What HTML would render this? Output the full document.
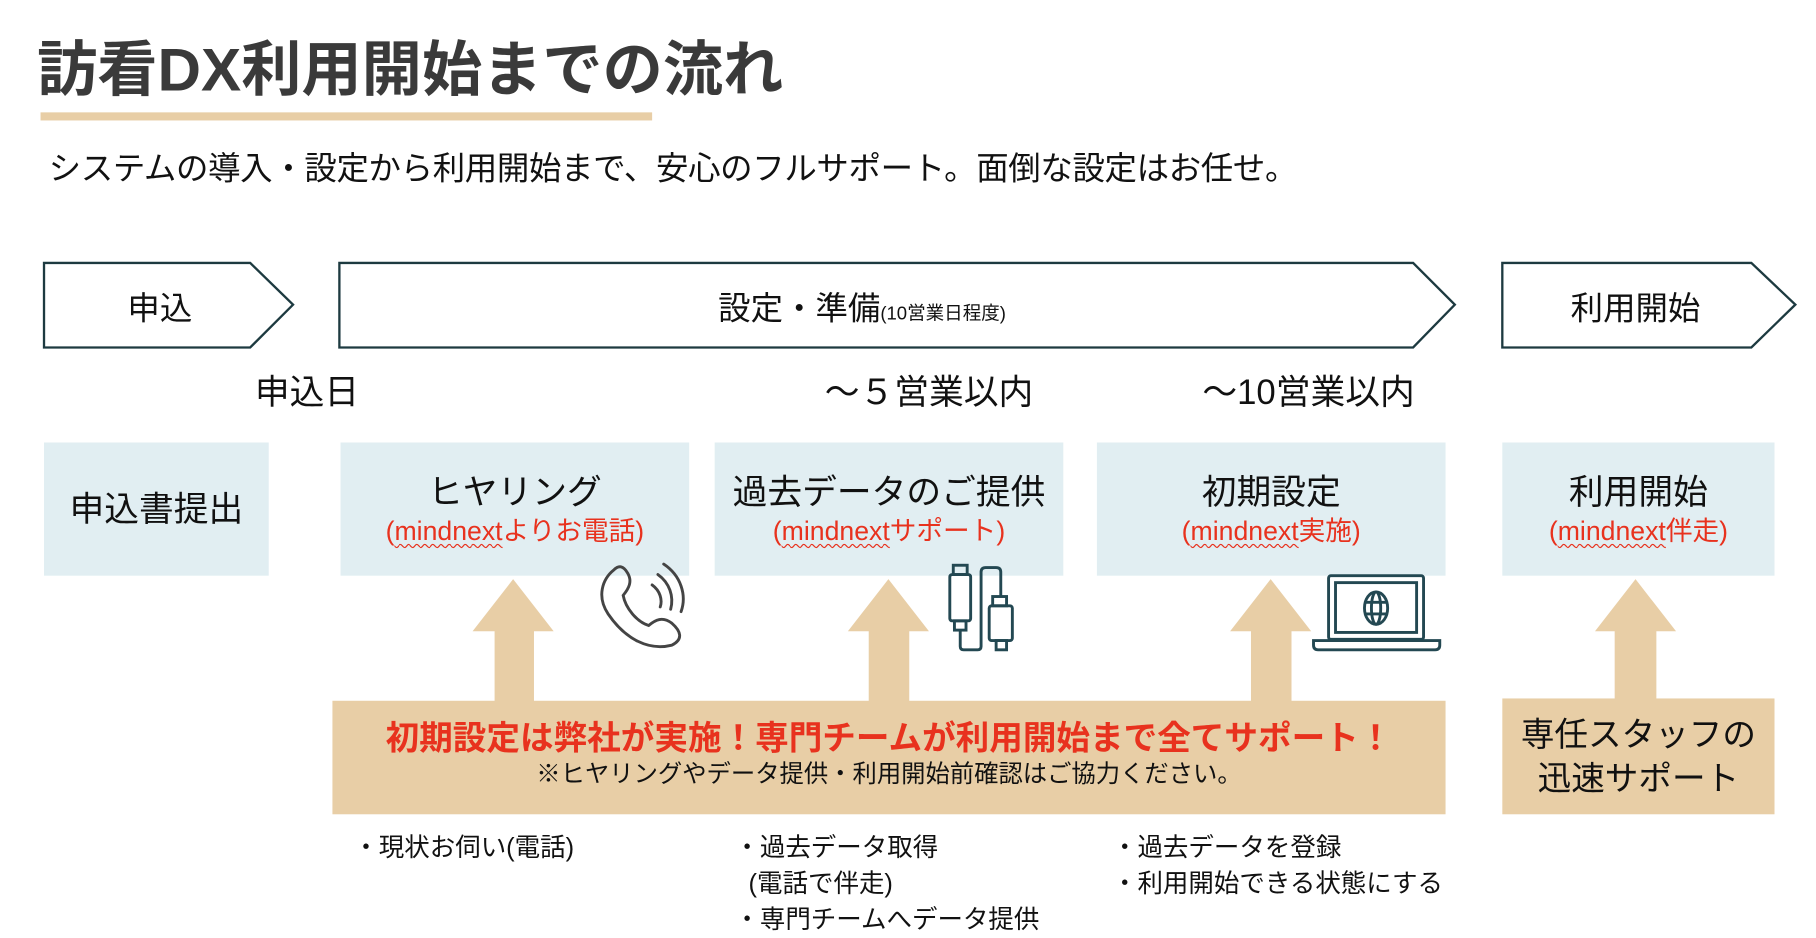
<!DOCTYPE html>
<html><head><meta charset="utf-8"><style>
html,body{margin:0;padding:0;background:#fff;overflow:hidden;width:1816px;height:938px}
#s{position:absolute;left:0;top:0;width:1570px;height:810px;transform:scale(1.1583);transform-origin:0 0;font-family:"Liberation Sans","Noto Sans CJK JP",sans-serif;color:#111}
.a{position:absolute;white-space:nowrap}
.bx{position:absolute;background:#e1eef2;text-align:center}
.t{font-size:30px;color:#111;line-height:34px}
.r{font-size:23px;color:#e8321e;line-height:30px}
.w{text-decoration:underline wavy #e8321e;text-decoration-thickness:1px;text-underline-offset:3px}
.tan{background:#e8cea6;position:absolute}
</style></head><body><div id="s">
<div class="a" style="left:32px;top:18px;font-size:52px;font-weight:bold;color:#3a3a3a;letter-spacing:0px">訪看DX利用開始までの流れ</div>
<div class="tan" style="left:35px;top:97px;width:528px;height:7px"></div>
<div class="a" style="left:42px;top:124px;font-size:28px;letter-spacing:-0.3px">システムの導入・設定から利用開始まで、安心のフルサポート。面倒な設定はお任せ。</div>
<svg class="a" style="left:0;top:0" width="1570" height="810">
<g fill="#fff" stroke="#1d3a40" stroke-width="2">
<polygon points="38,227 216,227 253,263 216,300 38,300"/>
<polygon points="293,227 1220,227 1256,263 1220,300 293,300"/>
<polygon points="1297,227 1512,227 1550,263 1512,300 1297,300"/>
</g>
<g fill="#e8cea6">
<polygon points="408,545 443,500 478,545 461,545 461,606 427,606 427,545"/>
<polygon points="732,545 767,500 802,545 785,545 785,606 750,606 750,545"/>
<polygon points="1062,545 1097,500 1132,545 1115,545 1115,606 1080,606 1080,545"/>
<polygon points="1377,545 1412,500 1447,545 1430,545 1430,604 1394,604 1394,545"/>
</g>
</svg>
<div class="a" style="left:38px;top:245px;width:200px;text-align:center;font-size:28px">申込</div>
<div class="a" style="left:620px;top:245px;font-size:28px">設定・準備<span style="font-size:16px">(10営業日程度)</span></div>
<div class="a" style="left:1297px;top:245px;width:230px;text-align:center;font-size:28px">利用開始</div>
<div class="a" style="left:220px;top:314px;font-size:30px">申込日</div>
<div class="a" style="left:712px;top:314px;font-size:30px">～５営業以内</div>
<div class="a" style="left:1038px;top:314px;font-size:30px">～10営業以内</div>
<div class="bx" style="left:38px;top:382px;width:194px;height:115px"><div class="t" style="margin-top:42px">申込書提出</div></div>
<div class="bx" style="left:294px;top:382px;width:301px;height:115px"><div class="t" style="margin-top:27px">ヒヤリング</div><div class="r">(<span class="w">mindnext</span>よりお電話)</div></div>
<div class="bx" style="left:617px;top:382px;width:301px;height:115px"><div class="t" style="margin-top:27px">過去データのご提供</div><div class="r">(<span class="w">mindnext</span>サポート)</div></div>
<div class="bx" style="left:947px;top:382px;width:301px;height:115px"><div class="t" style="margin-top:27px">初期設定</div><div class="r">(<span class="w">mindnext</span>実施)</div></div>
<div class="bx" style="left:1297px;top:382px;width:235px;height:115px"><div class="t" style="margin-top:27px">利用開始</div><div class="r">(<span class="w">mindnext</span>伴走)</div></div>
<svg class="a" style="left:0;top:0" width="1570" height="810">
<g fill="none" stroke="#444" stroke-width="2.5" stroke-linecap="round">
<path d="M530,492 C520,500 515,515 525,530 C540,552 560,562 580,557 C590,552 588,545 580,538 C572,532 566,535 560,540 C550,537 540,525 538,514 C543,508 546,502 542,495 C538,488 534,488 530,492Z"/>
<path d="M563,505 C570,510 572,518 570,524"/>
<path d="M568,496 C578,503 582,515 579,526"/>
<path d="M573,487 C588,497 593,514 588,528"/>
</g>
<g fill="none" stroke="#234852" stroke-width="2.5">
<rect x="823" y="488" width="12" height="8"/><rect x="820" y="496" width="18" height="40" rx="2"/><rect x="824" y="536" width="10" height="8"/>
<path d="M829,544 V558 Q829,561 832,561 H844 Q847,561 847,558 V494 Q847,490 851,490 H860 Q864,490 864,494 V515"/>
<rect x="857" y="515" width="12" height="8"/>
<rect x="854" y="523" width="20" height="30" rx="2"/><rect x="860" y="553" width="9" height="8"/>
<rect x="1147" y="497" width="82" height="55" rx="2"/><rect x="1153" y="503" width="70" height="43"/>
<ellipse cx="1188" cy="525" rx="10" ry="14"/><ellipse cx="1188" cy="525" rx="4" ry="14"/><path d="M1178,520 H1198 M1178,530 H1198"/>
<path d="M1134,553 H1243 V557 Q1243,561 1239,561 H1138 Q1134,561 1134,557Z"/>
</g>
</svg>
<div class="tan" style="left:287px;top:605px;width:961px;height:98px;text-align:center">
<div style="font-size:29px;font-weight:bold;color:#e8321e;margin-top:16px;line-height:34px">初期設定は弊社が実施！専門チームが利用開始まで全てサポート！</div>
<div style="font-size:21px;line-height:28px">※ヒヤリングやデータ提供・利用開始前確認はご協力ください。</div></div>
<div class="tan" style="left:1297px;top:603px;width:235px;height:100px;text-align:center;font-size:29px;line-height:38px"><div style="margin-top:13px">専任スタッフの<br>迅速サポート</div></div>
<div class="a" style="left:305px;top:716px;font-size:22px;line-height:31px">・現状お伺い(電話)</div>
<div class="a" style="left:634px;top:716px;font-size:22px;line-height:31px">・過去データ取得<br>&nbsp;&nbsp;(電話で伴走)<br>・専門チームへデータ提供</div>
<div class="a" style="left:960px;top:716px;font-size:22px;line-height:31px">・過去データを登録<br>・利用開始できる状態にする</div>
</div></body></html>
